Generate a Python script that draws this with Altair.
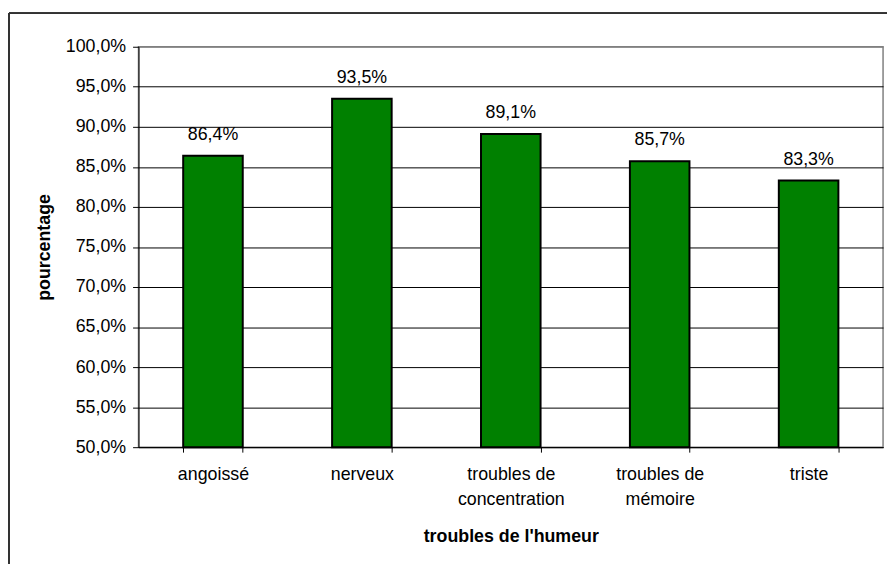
import altair as alt
import pandas as pd

categories = ["angoissé", "nerveux", "troubles de concentration", "troubles de mémoire", "triste"]
values = [86.4, 93.5, 89.1, 85.7, 83.3]
y_ticks = [50, 55, 60, 65, 70, 75, 80, 85, 90, 95, 100]

df = pd.DataFrame({"cat": categories, "val": values})

FONT = "Liberation Sans"
W, H = 753, 405

x_enc = alt.X(
    "cat:N", sort=None,
    scale=alt.Scale(paddingInner=0.6, paddingOuter=0.3),
    axis=alt.Axis(
        title="troubles de l'humeur", titleFont=FONT, titleFontSize=18, titleFontWeight="bold",
        titleColor="black", titleX=W / 2, titleY=95, titleBaseline="alphabetic", titleAnchor="middle",
        labelFont=FONT, labelFontSize=18, labelColor="black", labelAngle=0,
        labelBaseline="alphabetic", labelPadding=28, labelLineHeight=25,
        labelExpr="indexof(datum.label, 'troubles de ') == 0 ? ['troubles de', substring(datum.label, 12)] : datum.label",
        tickBand="extent", tickSize=5, tickColor="black", domainColor="black", grid=False,
    ),
)

y_enc = alt.Y(
    "val:Q",
    scale=alt.Scale(domain=[50, 100], nice=False, zero=False),
    axis=alt.Axis(
        title="pourcentage", titleFont=FONT, titleFontSize=18, titleFontWeight="bold",
        titleColor="black", titleX=-86, titleY=H / 2, titleAngle=270, titleBaseline="bottom",
        titleAlign="center",
        values=y_ticks, labelFont=FONT, labelFontSize=18, labelColor="black", labelPadding=7,
        labelExpr="replace(format(datum.value, '.1f'), '.', ',') + '%'",
        tickSize=6, tickColor="black", domainColor="black",
        grid=True, gridColor=alt.condition("datum.value == 100", alt.value("#808080"), alt.value("black")),
        gridWidth=1,
    ),
)

bars = alt.Chart(df).mark_bar(color="#008000", stroke="black", strokeWidth=2).encode(
    x=x_enc, y=y_enc, y2=alt.datum(50)
)

labels = alt.Chart(df).transform_calculate(
    lab="replace(format(datum.val, '.1f'), '.', ',') + '%'"
).mark_text(font=FONT, fontSize=18, color="black", baseline="alphabetic", dy=-16).encode(
    x=alt.X("cat:N", sort=None), y=alt.Y("val:Q"), text="lab:N"
)

frame_left = alt.Chart(df).mark_rule(color="#333333", strokeWidth=1.5).encode(
    x=alt.value(-131), y=alt.value(-34), y2=alt.value(523)
)
frame_top = alt.Chart(df).mark_rule(color="#333333", strokeWidth=1.5).encode(
    x=alt.value(-131), x2=alt.value(757), y=alt.value(-34)
)

chart = alt.layer(frame_left, frame_top, bars, labels).properties(
    width=W, height=H, padding={"left": 0, "top": 1, "right": 0, "bottom": 0},
    background="white",
).configure_view(stroke="#808080", strokeWidth=1.5)

chart.save("out.html", embed_options={"renderer": "svg", "actions": False})
